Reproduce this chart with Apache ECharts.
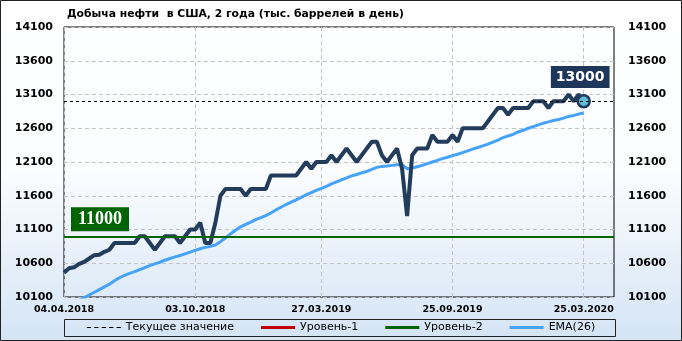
<!DOCTYPE html>
<html>
<head>
<meta charset="utf-8">
<script src="https://cdn.jsdelivr.net/npm/echarts@6/dist/echarts.min.js"></script>
<style>
html,body{margin:0;padding:0;background:#fff;}
#chart{width:682px;height:341px;}
</style>
</head>
<body>
<div id="chart"></div>
<script>
// ---- data ----
const dates = [
'04.04.2018','11.04.2018','18.04.2018','25.04.2018','02.05.2018','09.05.2018','16.05.2018','23.05.2018','30.05.2018','06.06.2018',
'13.06.2018','20.06.2018','27.06.2018','04.07.2018','11.07.2018','18.07.2018','25.07.2018','01.08.2018','08.08.2018','15.08.2018',
'22.08.2018','29.08.2018','05.09.2018','12.09.2018','19.09.2018','26.09.2018','03.10.2018','10.10.2018','17.10.2018','24.10.2018',
'31.10.2018','07.11.2018','14.11.2018','21.11.2018','28.11.2018','05.12.2018','12.12.2018','19.12.2018','26.12.2018','02.01.2019',
'09.01.2019','16.01.2019','23.01.2019','30.01.2019','06.02.2019','13.02.2019','20.02.2019','27.02.2019','06.03.2019','13.03.2019',
'20.03.2019','27.03.2019','03.04.2019','10.04.2019','17.04.2019','24.04.2019','01.05.2019','08.05.2019','15.05.2019','22.05.2019',
'29.05.2019','05.06.2019','12.06.2019','19.06.2019','26.06.2019','03.07.2019','10.07.2019','17.07.2019','24.07.2019','31.07.2019',
'07.08.2019','14.08.2019','21.08.2019','28.08.2019','04.09.2019','11.09.2019','18.09.2019','25.09.2019','02.10.2019','09.10.2019',
'16.10.2019','23.10.2019','30.10.2019','06.11.2019','13.11.2019','20.11.2019','27.11.2019','04.12.2019','11.12.2019','18.12.2019',
'25.12.2019','01.01.2020','08.01.2020','15.01.2020','22.01.2020','29.01.2020','05.02.2020','12.02.2020','19.02.2020','26.02.2020',
'04.03.2020','11.03.2020','18.03.2020','25.03.2020'
];
const tickLabels = ['04.04.2018','03.10.2018','27.03.2019','25.09.2019','25.03.2020'];

const production = [
10460,10525,10540,10590,10620,10670,10720,10725,10770,10800,
10900,10900,10900,10900,10900,11000,11000,10900,10800,10900,
11000,11000,11000,10900,11000,11100,11100,11200,10900,10900,
11200,11600,11700,11700,11700,11700,11600,11700,11700,11700,
11700,11900,11900,11900,11900,11900,11900,12000,12100,12000,
12100,12100,12100,12200,12100,12200,12300,12200,12100,12200,
12300,12400,12400,12200,12100,12200,12300,12000,11300,12200,
12300,12300,12300,12500,12400,12400,12400,12500,12400,12600,
12600,12600,12600,12600,12700,12800,12900,12900,12800,12900,
12900,12900,12900,13000,13000,13000,12900,13000,13000,13000,
13100,13000,13100,13000
];

const ema26 = [
9930,9970,10010,10050,10090,10130,10170,10210,10250,10290,
10340,10385,10420,10450,10475,10505,10535,10565,10590,10615,
10645,10670,10695,10715,10740,10765,10790,10815,10835,10850,
10870,10920,10975,11035,11090,11140,11175,11210,11245,11275,
11305,11345,11390,11430,11470,11505,11540,11575,11615,11645,
11680,11710,11740,11775,11805,11835,11865,11895,11915,11940,
11960,11990,12020,12035,12040,12050,12060,12060,12000,12010,
12030,12050,12075,12100,12125,12150,12170,12195,12215,12240,
12265,12290,12315,12340,12365,12395,12425,12460,12485,12510,
12545,12570,12600,12625,12650,12675,12695,12715,12730,12750,
12775,12790,12810,12825
];

const currentValue = 13000;
const level2Value = 11000;
const yMin = 10100, yMax = 14100, yStep = 500;
const padCategories = ['', '', '', '', '', ''];

// ---- build ----
const categories = dates.concat(padCategories);
const tickSet = new Set(tickLabels);
const isTick = (i, v) => tickSet.has(v);

const mainData = production.map((v, i) => {
  if (i !== production.length - 1) return v;
  return {
    value: v,
    symbol: 'circle',
    symbolSize: 12,
    itemStyle: {color: '#62bcd6', borderColor: '#1f3a5c', borderWidth: 2.5},
    label: {
      show: true, position: 'top', distance: 6, offset: [-3.5, 0],
      formatter: String(currentValue),
      color: '#fff', fontFamily: 'DejaVu Sans', fontWeight: 'bold', fontSize: 14,
      backgroundColor: '#1d3659', padding: [3, 5, 2, 5], lineHeight: 17
    }
  };
});

const FONT = 'DejaVu Sans';
const dashIcon = 'path://M0,0h4v1h-4z M7,0h4v1h-4z M14,0h4v1h-4z M21,0h4v1h-4z M28,0h4v1h-4z';
const chart = echarts.init(document.getElementById('chart'), null, {renderer: 'canvas'});
chart.setOption({
  animation: false,
  backgroundColor: {
    type: 'linear', x: 0, y: 0, x2: 0, y2: 1,
    colorStops: [{offset: 0, color: '#ffffff'}, {offset: 0.5, color: '#fbfdff'}, {offset: 1, color: '#d4e4f5'}]
  },
  title: {
    text: 'Добыча нефти  в США, 2 года (тыс. баррелей в день)',
    left: 62, top: 4,
    textStyle: {fontFamily: FONT, fontWeight: 'bold', fontSize: 10.8, color: '#000'}
  },
  graphic: [
    {type: 'rect', silent: true, shape: {x: 0.5, y: 0.5, width: 681, height: 340},
     style: {fill: 'none', stroke: '#222', lineWidth: 1}},
    {type: 'rect', silent: true, shape: {x: 64.5, y: 319.5, width: 551, height: 17},
     style: {fill: 'none', stroke: '#222', lineWidth: 1}}
  ],
  legend: {
    data: [
      {name: 'Текущее значение', icon: dashIcon},
      {name: 'Уровень-1', icon: 'rect'},
      {name: 'Уровень-2', icon: 'rect'},
      {name: 'EMA(26)', icon: 'rect'}
    ],
    left: 'center', top: 322, itemWidth: 34, itemHeight: 3, itemGap: 27,
    padding: 0,
    textStyle: {fontFamily: FONT, fontSize: 11, color: '#000'}
  },
  grid: {left: 64, right: 68, top: 27, bottom: 44, show: true, borderColor: '#000', borderWidth: 1, backgroundColor: 'transparent'},
  xAxis: {
    type: 'category', data: categories, boundaryGap: false,
    axisLine: {show: false}, axisTick: {show: false},
    axisLabel: {interval: isTick, fontFamily: FONT, fontWeight: 'bold', fontSize: 9.5, color: '#000', margin: 8},
    splitLine: {show: true, interval: isTick, lineStyle: {color: '#c4c4c4', type: [4, 3], width: 1}}
  },
  yAxis: [
    {type: 'value', min: yMin, max: yMax, interval: yStep, position: 'left',
     axisLine: {show: false}, axisTick: {show: false},
     axisLabel: {formatter: v => String(v), fontFamily: FONT, fontWeight: 'bold', fontSize: 11, color: '#000', margin: 11},
     splitLine: {show: true, lineStyle: {color: '#c4c4c4', type: [4, 3], width: 1}}},
    {type: 'value', min: yMin, max: yMax, interval: yStep, position: 'right',
     axisLine: {show: false}, axisTick: {show: false},
     axisLabel: {formatter: v => String(v), fontFamily: FONT, fontWeight: 'bold', fontSize: 11, color: '#000', margin: 14},
     splitLine: {show: false}}
  ],
  series: [
    {name: 'Текущее значение', type: 'line', data: [], symbol: 'none',
     lineStyle: {color: '#000', width: 1, type: [4, 3]}, itemStyle: {color: '#000'},
     markLine: {silent: true, symbol: 'none', label: {show: false},
       lineStyle: {color: '#000', width: 1, type: [3, 3]},
       data: [{yAxis: currentValue}]}},
    {name: 'Уровень-1', type: 'line', data: [], symbol: 'none',
     lineStyle: {color: '#c00000', width: 3}, itemStyle: {color: '#c00000'}},
    {name: 'Уровень-2', type: 'line', data: [], symbol: 'none',
     lineStyle: {color: '#006400', width: 3}, itemStyle: {color: '#006400'},
     markLine: {silent: true, symbol: 'none',
       lineStyle: {color: '#006400', width: 2, type: 'solid'},
       label: {show: true, position: 'insideStartTop', distance: [7, 5],
         formatter: String(level2Value), color: '#fff',
         fontFamily: 'Liberation Serif', fontWeight: 'bold', fontSize: 18,
         backgroundColor: '#006400', padding: [3, 7, 2, 7], lineHeight: 19},
       data: [{yAxis: level2Value}]}},
    {name: 'EMA(26)', type: 'line', data: ema26, symbol: 'none', z: 3,
     lineStyle: {color: '#45a3fb', width: 3}, itemStyle: {color: '#45a3fb'}},
    {name: 'Добыча нефти', type: 'line', data: mainData, symbol: 'none', z: 4,
     lineStyle: {color: '#233c5b', width: 4}, itemStyle: {color: '#233c5b'}}
  ]
});
</script>
</body>
</html>
